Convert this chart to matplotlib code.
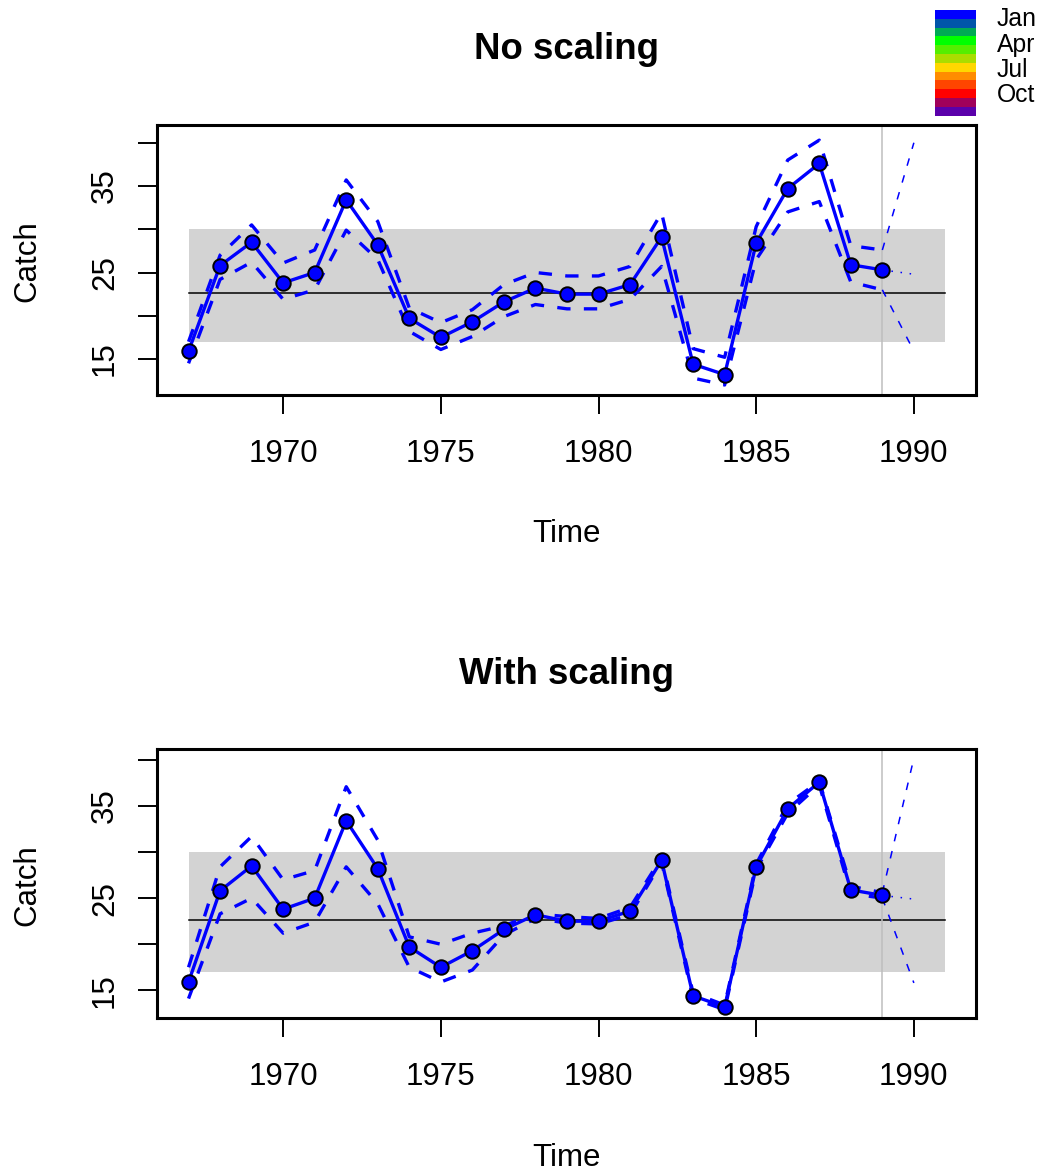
import numpy as np
import matplotlib.pyplot as plt
from matplotlib.patches import Rectangle

plt.rcParams['font.family'] = ['Liberation Sans', 'DejaVu Sans']

# observed series
years = np.arange(1967, 1990)
catch = [15.9, 25.8, 28.5, 23.8, 25.0, 33.4, 28.2, 19.7, 17.5, 19.3, 21.6, 23.2,
         22.5, 22.5, 23.6, 29.1, 14.4, 13.2, 28.4, 34.7, 37.6, 25.9, 25.3]

# bounds, no scaling
upper_ns = [17.0, 27.0, 30.5, 26.1, 27.6, 35.7, 30.9, 20.9, 19.2, 20.7, 23.6, 25.0,
            24.6, 24.6, 25.7, 31.9, 16.2, 15.2, 30.3, 38.0, 40.3, 28.1, 27.6]
lower_ns = [14.5, 24.2, 26.2, 21.9, 23.0, 29.9, 26.5, 18.2, 16.1, 17.6, 19.9, 21.3,
            20.8, 20.8, 21.9, 25.7, 12.8, 12.0, 26.5, 32.0, 33.2, 23.9, 23.0]

# bounds, with scaling
upper_ws = [17.5, 28.4, 31.7, 27.0, 28.0, 37.1, 31.3, 20.8, 20.0, 21.2, 22.0, 23.3,
            23.0, 22.8, 24.0, 29.4, 14.7, 13.4, 28.7, 35.2, 37.7, 26.3, 25.6]
lower_ws = [14.1, 23.3, 25.0, 21.2, 22.4, 28.4, 24.4, 17.5, 15.9, 17.2, 21.0, 22.8,
            22.3, 22.2, 23.2, 28.9, 14.1, 12.9, 28.1, 34.2, 37.3, 25.5, 25.0]

# one step forecast 1990
fc_years = [1989, 1990]
fc_ns = {'upper': [27.6, 40.0], 'mid': [25.3, 24.8], 'lower': [23.0, 15.9]}
fc_ws = {'upper': [25.6, 40.2], 'mid': [25.3, 24.9], 'lower': [25.0, 15.8]}

band_years = [1967, 1991]
band_lo, band_hi = 17.0, 30.0
ref_level = 22.6
last_obs = 1989

yticks = [15, 20, 25, 30, 35, 40]
ylabels = ['15', '', '25', '', '35', '']
xticks = [1970, 1975, 1980, 1985, 1990]

month_cols = ['#0000FF', '#0055AA', '#00AA55', '#00FF00', '#55EE00', '#AADD00',
              '#FFD700', '#FF8C00', '#FF4500', '#FF0000', '#A0005A', '#5A00AA']
month_labels = ['Jan', 'Apr', 'Jul', 'Oct']

W, H = 1042, 1171
fig = plt.figure(figsize=(W / 100, H / 100), dpi=100)


def panel(top_px, bot_px, title, upper, lower, fc, ylim):
    ax = fig.add_axes([157 / W, 1 - bot_px / H, (976 - 157) / W, (bot_px - top_px) / H])
    ax.fill_between(band_years, band_lo, band_hi, color='#D3D3D3', lw=0, zorder=1)
    ax.plot(band_years, [ref_level, ref_level], color='black', lw=1.1, zorder=2)
    ax.axvline(last_obs, color='#BEBEBE', lw=1.1, zorder=2)
    ax.plot(years, upper, color='blue', lw=2.4, ls=(0, (4, 4)), zorder=3)
    ax.plot(years, lower, color='blue', lw=2.4, ls=(0, (4, 4)), zorder=3)
    ax.plot(fc_years, fc['upper'], color='blue', lw=1.1, ls=(0, (5, 6.5)), zorder=3)
    ax.plot(fc_years, fc['lower'], color='blue', lw=1.1, ls=(0, (5, 6.5)), zorder=3)
    ax.plot(fc_years, fc['mid'], color='blue', lw=1.1, ls=(0, (1, 5)), zorder=3)
    ax.plot(years, catch, color='blue', lw=2.4, marker='o', ms=10.4, mfc='blue',
            mec='black', mew=1.4, zorder=4)
    ax.set_xlim(1966.0, 1991.97)
    ax.set_ylim(*ylim)
    ax.set_xticks(xticks)
    ax.set_yticks(yticks)
    ax.set_yticklabels(ylabels, rotation=90, va='center')
    for lab in ax.get_yticklabels():
        lab.set_y(lab.get_position()[1])
    ax.tick_params(axis='both', length=13.7, width=1.4, labelsize=22.5)
    ax.tick_params(axis='x', pad=18)
    ax.tick_params(axis='y', pad=13)
    for s in ax.spines.values():
        s.set_linewidth(2.2)
    fig.text(566.5 / W, 1 - (top_px - 65.7) / H, title, ha='center', va='baseline',
             fontsize=26.4, fontweight='bold')
    fig.text(566.5 / W, 1 - (top_px + 416.7) / H, 'Time', ha='center', va='baseline',
             fontsize=22.5)
    fig.text(35 / W, 1 - (top_px + 136) / H, 'Catch', ha='center', va='baseline',
             rotation=90, rotation_mode='anchor', fontsize=22.5)
    return ax


panel(125, 395, 'No scaling', upper_ns, lower_ns, fc_ns, (10.84, 42.05))
panel(749.3, 1018.3, 'With scaling', upper_ws, lower_ws, fc_ws, (11.96, 41.16))

# month colour key
lg = fig.add_axes([935 / W, 1 - 115.7 / H, 41 / W, 105.7 / H])
lg.axis('off')
lg.set_xlim(0, 1)
lg.set_ylim(0, len(month_cols))
for i, c in enumerate(month_cols):
    lg.add_patch(Rectangle((0, len(month_cols) - 1 - i), 1, 1, color=c, lw=0))
for j, lab in enumerate(month_labels):
    fig.text(997 / W, 1 - (26.5 + 25.1 * j) / H, lab, ha='left', va='baseline',
             fontsize=17.8)

fig.savefig('out.png', dpi=100)
